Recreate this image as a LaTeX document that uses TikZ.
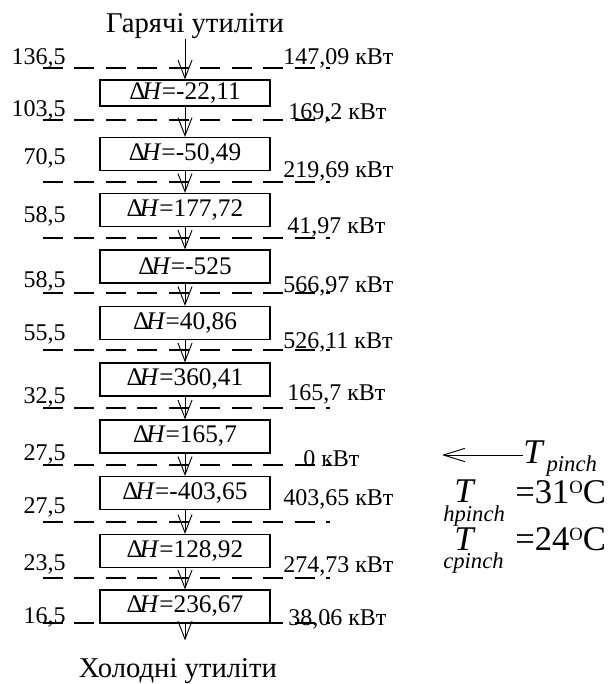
\documentclass[tikz,border=0pt]{standalone}
\usepackage{fontspec}
\setmainfont{Liberation Serif}
\usetikzlibrary{arrows.meta, positioning, calc}

\begin{document}
\begin{tikzpicture}[
					x=0.75pt, y=-0.75pt,
					lbl/.style={font=\fontsize{18}{21}\selectfont, inner sep=0pt},
					title/.style={font=\fontsize{21.5}{24}\selectfont, inner sep=0pt},
					dhbox/.style={rectangle, draw, line width=0.9pt, minimum width=127.5pt,
						minimum height=24.75pt, inner sep=0pt, font=\fontsize{19}{22}\selectfont},
					level/.style={line width=0.9pt, dash pattern=on 15pt off 8.6pt},
					flow/.style={-{Straight Barb[length=13.5pt, width=10.5pt]}, line width=0.7pt},
					pinch/.style={-{Straight Barb[length=16pt, width=10pt]}, line width=0.7pt},
					bigT/.style={inner sep=0pt, font=\fontsize{26}{28}\selectfont\itshape},
					subT/.style={inner sep=0pt, font=\fontsize{17}{19}\selectfont\itshape},
					valT/.style={inner sep=0pt, font=\fontsize{26}{28}\selectfont}
					]
					\useasboundingbox (0,0) rectangle (615,684);
					
					% --- Temperature levels ---
					\foreach \y in {68,120,182,238,293,350,408,465,522,578,623}
						\draw[level] (43,\y) -- (330,\y);
					
					% --- Utilities and enthalpy boxes ---
					\node[title, anchor=base] (hot) at (195,33) {Гарячі утиліти};
					\node[dhbox, minimum height=19.5pt] (b1) at (185,93) {Δ\kern-0.12em\textit{H}=-22,11};
					\node[dhbox] (b2) at (185,154) {Δ\kern-0.12em\textit{H}=-50,49};
					\node[dhbox] (b3) at (185,210) {Δ\kern-0.12em\textit{H}=177,72};
					\node[dhbox] (b4) at (185,266.5) {Δ\kern-0.12em\textit{H}=-525};
					\node[dhbox] (b5) at (185,323) {Δ\kern-0.12em\textit{H}=40,86};
					\node[dhbox] (b6) at (185,379.5) {Δ\kern-0.12em\textit{H}=360,41};
					\node[dhbox] (b7) at (185,436.5) {Δ\kern-0.12em\textit{H}=165,7};
					\node[dhbox] (b8) at (185,493) {Δ\kern-0.12em\textit{H}=-403,65};
					\node[dhbox] (b9) at (185,551) {Δ\kern-0.12em\textit{H}=128,92};
					\node[dhbox] (b10) at (185,606.5) {Δ\kern-0.12em\textit{H}=236,67};
					\node[title, anchor=base] (cold) at (178,677) {Холодні утиліти};
					
					\draw[flow] (hot.south -| b1.north) -- (b1.north);
					\foreach \a/\b in {b1/b2,b2/b3,b3/b4,b4/b5,b5/b6,b6/b7,b7/b8,b8/b9,b9/b10}
						\draw[flow] (\a.south) -- (\b.north);
					\draw[flow, shorten >=13pt] (b10.south) -- (b10.south |- cold.north);
					
					% --- Left: interval temperatures ---
					\node[lbl, anchor=base east] (t0) at (66,65) {136,5};
					\node[lbl, anchor=base east] (t1) at (66,117) {103,5};
					\node[lbl, anchor=base east] (t2) at (66,165) {70,5};
					\node[lbl, anchor=base east] (t3) at (66,223) {58,5};
					\node[lbl, anchor=base east] (t4) at (66,287) {58,5};
					\node[lbl, anchor=base east] (t5) at (66,340) {55,5};
					\node[lbl, anchor=base east] (t6) at (66,403) {32,5};
					\node[lbl, anchor=base east] (t7) at (66,460) {27,5};
					\node[lbl, anchor=base east] (t8) at (66,513) {27,5};
					\node[lbl, anchor=base east] (t9) at (66,570) {23,5};
					\node[lbl, anchor=base east] (t10) at (66,623) {16,5};
					
					% --- Right: cascaded heat flows ---
					\node[lbl, anchor=base west] (q0) at (283,65) {147,09 кВт};
					\node[lbl, anchor=base west] (q1) at (288,120) {169,2 кВт};
					\node[lbl, anchor=base west] (q2) at (283,178) {219,69 кВт};
					\node[lbl, anchor=base west] (q3) at (287,233) {41,97 кВт};
					\node[lbl, anchor=base west] (q4) at (283,292) {566,97 кВт};
					\node[lbl, anchor=base west] (q5) at (283,348) {526,11 кВт};
					\node[lbl, anchor=base west] (q6) at (287,400) {165,7 кВт};
					\node[lbl, anchor=base west] (q7) at (303,466) {0 кВт};
					\node[lbl, anchor=base west] (q8) at (283,505) {403,65 кВт};
					\node[lbl, anchor=base west] (q9) at (283,572) {274,73 кВт};
					\node[lbl, anchor=base west] (q10) at (288,625) {38,06 кВт};
					
					% --- Pinch point ---
					\node[inner sep=0pt, font=\fontsize{26}{28}\selectfont, anchor=base west] (tp) at (523,463) {\itshape T\kern3pt\raisebox{-6pt}{\fontsize{17}{19}\selectfont pinch}};
					\coordinate (pinchtip) at (442,455);
					\draw[pinch] (tp.west |- pinchtip) -- (pinchtip);
					
					\node[bigT, anchor=base west] (thT) at (454,502) {T};
					\node[subT, anchor=base west] (thsub) at (443,521) {hpinch};
					\node[valT, anchor=base west] (thval) at (515,503) {=31\raisebox{7.5pt}{\fontsize{14}{15}\selectfont O}C};
					
					\node[bigT, anchor=base west] (tcT) at (454,550) {T};
					\node[subT, anchor=base west] (tcsub) at (443,568) {cpinch};
					\node[valT, anchor=base west] (tcval) at (515,550) {=24\raisebox{7.5pt}{\fontsize{14}{15}\selectfont O}C};
				\end{tikzpicture}
\end{document}
